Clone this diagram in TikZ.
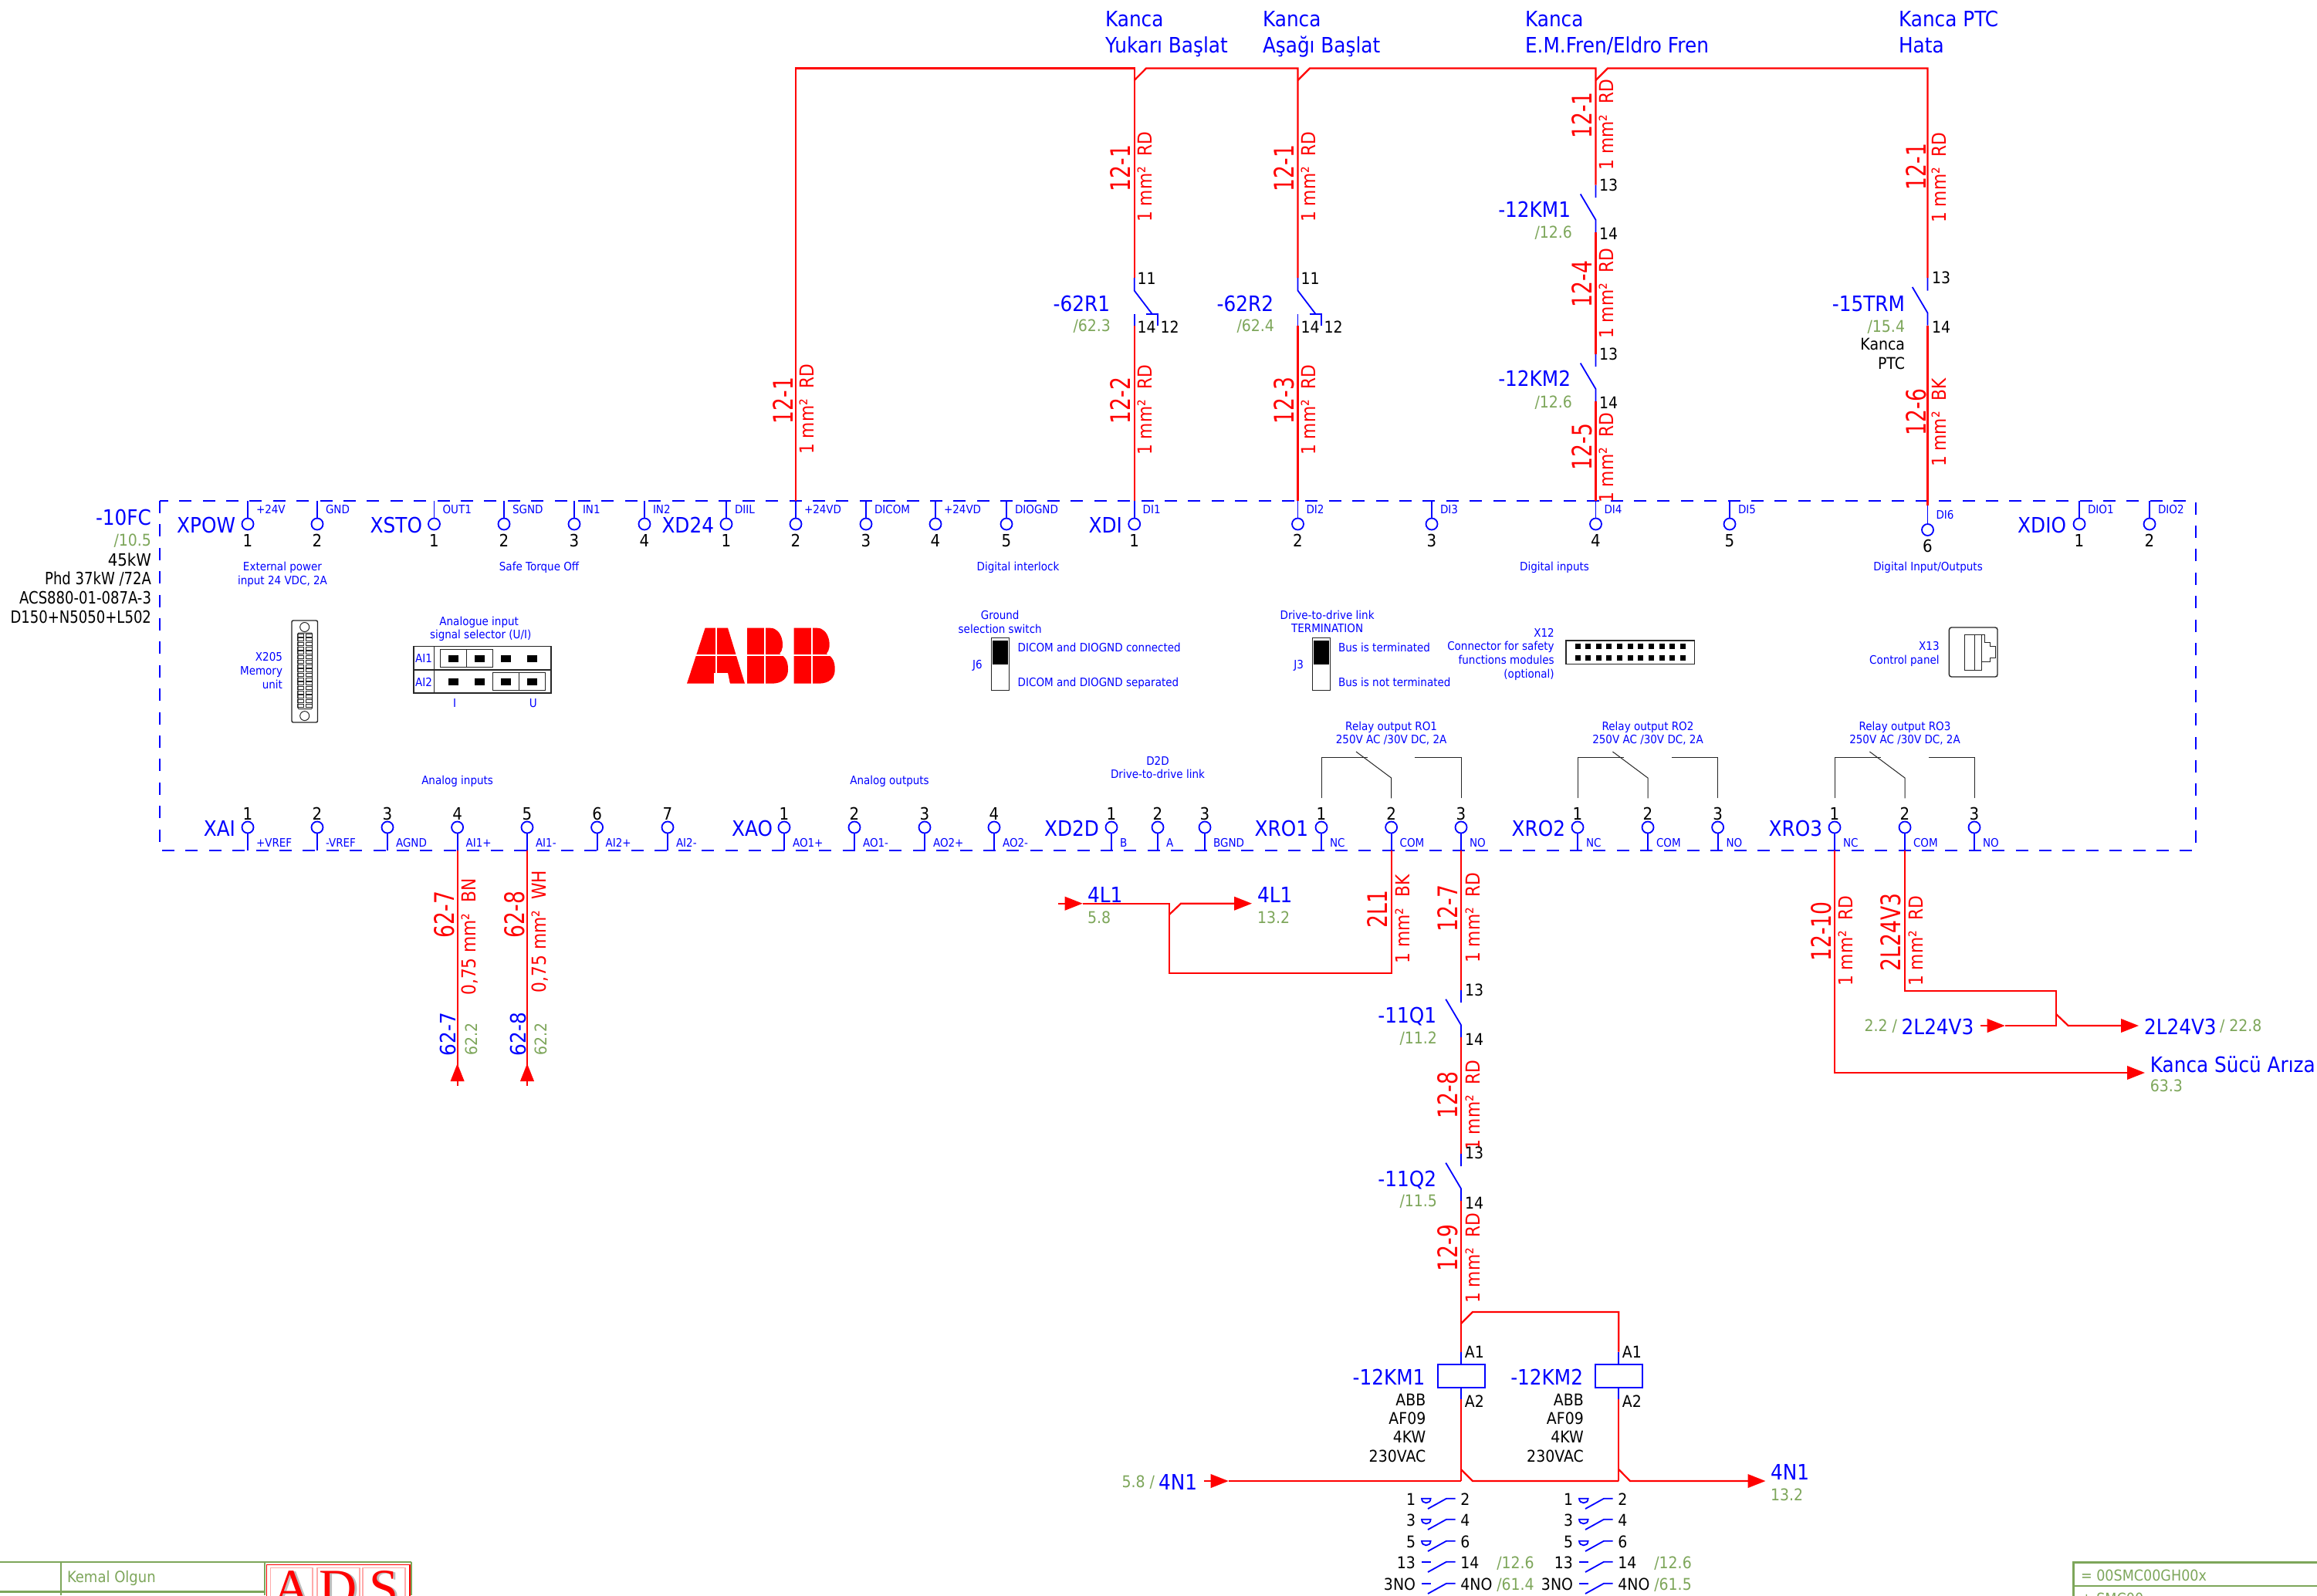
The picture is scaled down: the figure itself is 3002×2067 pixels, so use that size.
\documentclass[tikz,border=0pt]{standalone}
\usepackage{fontspec}
\setmainfont{DejaVu Sans}
\newfontfamily\fTa[FakeStretch=0.9]{DejaVu Sans}
\newfontfamily\fTb[FakeStretch=0.82]{DejaVu Sans}
\newfontfamily\fWa[FakeStretch=0.76]{DejaVu Sans}
\newfontfamily\fWb[FakeStretch=0.87]{DejaVu Sans}
\newfontfamily\fSer{Liberation Serif}
\usetikzlibrary{arrows.meta}
\definecolor{grn}{RGB}{125,166,90}
\definecolor{pnk}{RGB}{255,170,170}
\definecolor{shd}{RGB}{190,190,190}
\newcounter{txtn}
\newcommand\Tx[4]{\stepcounter{txtn}\node[#1] (txt\arabic{txtn}) at (#2,#3) {#4};}
\tikzset{
  x=1pt,y=-1pt,
  sz/.style={font=\fTa\fontsize{#1}{#1}\selectfont,text height={#1*0.73pt},text depth=0pt,inner sep=0pt,outer sep=0pt},
  ae/.style={anchor=east}, aw/.style={anchor=west},
  bl/.style={sz=27.5,text=blue},
  capt/.style={sz=15,text=blue},
  stemt/.style={sz=15,text=blue,anchor=west},
  gr/.style={sz=21,text=grn},
  blk/.style={sz=22,text=black},
  blkn/.style={sz=22,font=\fTb\fontsize{22}{22}\selectfont,text=black,anchor=east},
  pinl/.style={sz=21,text=black,anchor=west},
  wnm/.style={font=\fWa\fontsize{35}{35}\selectfont,text height={25.5pt},text depth=0pt,inner sep=0pt,outer sep=0pt,text=red,rotate=90},
  wsc/.style={font=\fWb\fontsize{25}{25}\selectfont,text height={18.2pt},text depth=0pt,inner sep=0pt,outer sep=0pt,text=red,rotate=90},
  termc/.style={circle,draw=blue,line width=1.8pt,minimum size=15pt,inner sep=0pt,fill=white},
  bline/.style={draw=blue,line width=1.8pt},
  wire/.style={draw=red,line width=2.2pt,line join=miter},
  arr/.style={wire,-{Triangle[length=23pt,width=17.5pt]},shorten >=0pt},
  symb/.style={draw=black!85,line width=1pt},
  gline/.style={draw=grn,line width=2.6pt},
  coilb/.style={rectangle,draw=blue,line width=2pt,minimum width=61pt,minimum height=30.6pt,inner sep=0pt},
}
% top terminal: name, x, number, label, optional dy
\newcommand\topT[5][0]{%
  \node[termc] (#2) at (#3,{679+#1}) {};
  \draw[bline] (#2) -- (#2 |- boxNW);
  \Tx{blk}{#3}{{700+#1}}{#4}
  \Tx{stemt}{{#3+11}}{{660+#1}}{#5}
}
\newcommand\botT[4]{%
  \node[termc] (#1) at (#2,1072) {};
  \draw[bline] (#1) -- (#1 |- boxSE);
  \Tx{blk}{#2}{1054}{#3}
  \Tx{stemt}{{#2+11}}{1092.5}{#4}
}
% normally-open contact: name, x, y of top end
\newcommand\noc[3]{%
  \coordinate (#1i) at (#2,#3);
  \coordinate (#1a) at (#2,{#3+16.5});
  \coordinate (#1b) at ({#2-19.8},{#3+12});
  \coordinate (#1c) at (#2,{#3+45.5});
  \coordinate (#1o) at (#2,{#3+61.5});
  \draw[bline] (#1i) -- (#1a) (#1b) -- (#1c) -- (#1o);
}
% relay block above terminals: x of COM, caption
\newcommand\relay[2]{%
  \Tx{capt}{#1}{940.7}{Relay output #2}
  \Tx{capt}{#1}{957.6}{250V AC /30V DC, 2A}
  \draw[symb] ({#1-90.6},1034.4) -- ({#1-90.6},981.4) -- ({#1-30.6},981.4);
  \draw[symb] (#1,1034.4) -- (#1,1008) -- ({#1-45.6},974);
  \draw[symb] ({#1+90.6},1034.4) -- ({#1+90.6},981.4) -- ({#1+30.6},981.4);
}
% aux contact row: xoff, y, kind, left, right, ref
\newcommand\crow[6]{%
  \ifnum#3=1
    \draw[bline] ({1842+#1},#2) -- ({1853.6+#1},#2) .. controls ({1853.6+#1},{#2+7.5}) and ({1842+#1},{#2+7.5}) .. cycle;
  \else
    \draw[bline] ({1842+#1},#2) -- ({1853.6+#1},#2);
  \fi
  \draw[bline] ({1850+#1},{#2+13.3}) -- ({1874+#1},#2) -- ({1885.7+#1},#2);
  \Tx{sz=21,ae}{{1834+#1}}{{#2+1}}{#4}
  \Tx{pinl}{{1892.4+#1}}{{#2+1}}{#5}
  \Tx{gr,aw}{{1939.3+#1}}{{#2+1}}{#6}
}
% ABB letter B
\newcommand\abbB[1]{%
  \fill[red] (#1,813.7) -- ({#1+30},813.7) .. controls ({#1+46},813.7) and ({#1+50},840) .. ({#1+42},847) .. controls ({#1+52},852) and ({#1+53},860) .. ({#1+53},868) .. controls ({#1+53},878) and ({#1+46},885.7) .. ({#1+32},885.7) -- (#1,885.7) -- cycle;
  \draw[white,line width=2pt] ({#1+23},813) -- ({#1+23},886.5);
}
\begin{document}
\begin{tikzpicture}
\useasboundingbox (0,0) rectangle (3002,2067);
\clip (0,0) rectangle (3002,2067);
\fill[white] (0,0) rectangle (3002,2067);

% device outline
\coordinate (boxNW) at (207,649);
\coordinate (boxSE) at (2845,1102);
\draw[blue,line width=2pt,dash pattern=on 16pt off 14.4pt] (boxNW) rectangle (boxSE);
\coordinate (topbus) at (0,88.5);

% top terminals
\topT{p1}{321}{1}{+24V}
\topT{p2}{411}{2}{GND}
\topT{s1}{562.5}{1}{OUT1}
\topT{s2}{653}{2}{SGND}
\topT{s3}{744}{3}{IN1}
\topT{s4}{835}{4}{IN2}
\topT{d1}{941}{1}{DIIL}
\topT{d2}{1031}{2}{+24VD}
\topT{d3}{1122}{3}{DICOM}
\topT{d4}{1212}{4}{+24VD}
\topT{d5}{1304}{5}{DIOGND}
\topT{i1}{1469.7}{1}{DI1}
\topT{i2}{1681.5}{2}{DI2}
\topT{i3}{1855}{3}{DI3}
\topT{i4}{2067.5}{4}{DI4}
\topT{i5}{2241}{5}{DI5}
\topT[7.5]{i6}{2497.5}{6}{DI6}
\topT{o1}{2694}{1}{DIO1}
\topT{o2}{2785}{2}{DIO2}

% bottom terminals
\botT{a1}{321}{1}{+VREF}
\botT{a2}{411}{2}{-VREF}
\botT{a3}{502}{3}{AGND}
\botT{a4}{592.6}{4}{AI1+}
\botT{a5}{683}{5}{AI1-}
\botT{a6}{773.6}{6}{AI2+}
\botT{a7}{865}{7}{AI2-}
\botT{b1}{1016}{1}{AO1+}
\botT{b2}{1107}{2}{AO1-}
\botT{b3}{1198}{3}{AO2+}
\botT{b4}{1288}{4}{AO2-}
\botT{c1}{1440}{1}{B}
\botT{c2}{1500}{2}{A}
\botT{c3}{1561}{3}{BGND}
\botT{r1}{1712}{1}{NC}
\botT{r2}{1802.6}{2}{COM}
\botT{r3}{1893}{3}{NO}
\botT{q1}{2044}{1}{NC}
\botT{q2}{2135}{2}{COM}
\botT{q3}{2225.6}{3}{NO}
\botT{u1}{2377}{1}{NC}
\botT{u2}{2468}{2}{COM}
\botT{u3}{2558}{3}{NO}

% connector group names
\Tx{bl,ae}{305}{680}{XPOW}
\Tx{bl,ae}{547}{680}{XSTO}
\Tx{bl,ae}{925}{680}{XD24}
\Tx{bl,ae}{1454}{680}{XDI}
\Tx{bl,ae}{2677}{680}{XDIO}
\Tx{bl,ae}{305}{1073.5}{XAI}
\Tx{bl,ae}{1001}{1073.5}{XAO}
\Tx{bl,ae}{1424}{1073.5}{XD2D}
\Tx{bl,ae}{1695}{1073.5}{XRO1}
\Tx{bl,ae}{2028}{1073.5}{XRO2}
\Tx{bl,ae}{2361}{1073.5}{XRO3}

% device designation
\Tx{bl,ae}{196}{670}{-10FC}
\Tx{gr,ae}{196}{700}{/10.5}
\Tx{blk,ae}{196}{725}{45kW}
\Tx{blkn}{196}{749}{Phd 37kW /72A}
\Tx{blkn}{196}{774}{ACS880-01-087A-3}
\Tx{blkn}{196}{799}{D150+N5050+L502}

% captions
\Tx{capt}{366}{734}{External power}
\Tx{capt}{366}{752}{input 24 VDC, 2A}
\Tx{capt}{698.6}{734}{Safe Torque Off}
\Tx{capt}{1319}{734}{Digital interlock}
\Tx{capt}{2014}{734}{Digital inputs}
\Tx{capt}{2498}{734}{Digital Input/Outputs}
\Tx{capt}{592.6}{1010.6}{Analog inputs}
\Tx{capt}{1152.5}{1010.6}{Analog outputs}
\Tx{capt}{1500}{985.7}{D2D}
\Tx{capt}{1500}{1003.5}{Drive-to-drive link}

% X205
\Tx{capt,ae}{366}{851}{X205}
\Tx{capt,ae}{366}{869}{Memory}
\Tx{capt,ae}{366}{887}{unit}
\draw[symb,rounded corners=2pt,line width=1.4pt] (378,804) rectangle (411.5,936);
\draw[symb] (394.7,812.5) circle (6pt) (394.7,927.6) circle (6pt);
\draw[symb,rounded corners=1pt] (386,820) rectangle (404.5,918.5);
\foreach \r in {0,...,16}{
  \draw[symb,line width=.8pt] (385,{821+\r*5.7}) rectangle (393.3,{825+\r*5.7});
  \draw[symb,line width=.8pt] (396.3,{821+\r*5.7}) rectangle (404.5,{825+\r*5.7});
}

% analogue selector
\Tx{capt}{620.7}{805}{Analogue input}
\Tx{capt}{622.7}{822}{signal selector (U/I)}
\draw[symb,line width=1.4pt] (536,837.3) rectangle (714,898);
\draw[symb,line width=1.4pt] (536,868) -- (714,868) (562.7,837.3) -- (562.7,898);
\Tx{capt}{549}{853}{AI1}
\Tx{capt}{549}{884}{AI2}
\foreach \px in {587.3,621.3,655.3,689.3}{
  \fill[black] ({\px-6.3},848.5) rectangle ({\px+6.3},857.5);
  \fill[black] ({\px-6.3},878.5) rectangle ({\px+6.3},887.5);
}
\draw[symb] (570,841.3) rectangle (638.7,864.3) (604.3,841.3) -- (604.3,864.3);
\draw[symb] (638.3,871.7) rectangle (706.7,894.3) (672.3,871.7) -- (672.3,894.3);
\Tx{capt}{589}{911}{I}
\Tx{capt}{690.7}{911}{U}

% ABB logo
\fill[red] (890,885.7) -- (913.6,813.7) -- (943,813.7) -- (965,885.7) -- cycle;
\fill[white] (925,886.5) -- (925,872) -- (943,872) -- (946,886.5) -- cycle;
\draw[white,line width=2pt] (928,813) -- (928,872);
\abbB{968}
\abbB{1028.7}
\draw[white,line width=2pt] (885,848.5) -- (1085,848.5);

% J6
\Tx{capt}{1295.7}{796.7}{Ground}
\Tx{capt}{1295.7}{815}{selection switch}
\draw[symb,line width=1.4pt] (1284.7,826.7) rectangle (1307.3,894.3);
\fill[black] (1286,830) rectangle (1306.3,861);
\Tx{capt,ae}{1272.7}{861}{J6}
\Tx{capt,aw}{1318.7}{839}{DICOM and DIOGND connected}
\Tx{capt,aw}{1318.7}{884}{DICOM and DIOGND separated}
% J3
\Tx{capt}{1719.6}{796.7}{Drive-to-drive link}
\Tx{capt}{1719.6}{814.5}{TERMINATION}
\draw[symb,line width=1.4pt] (1700.5,826.7) rectangle (1723.5,894.3);
\fill[black] (1702,830) rectangle (1722,861);
\Tx{capt,ae}{1689}{861}{J3}
\Tx{capt,aw}{1734}{838.7}{Bus is terminated}
\Tx{capt,aw}{1734}{884}{Bus is not terminated}
% X12
\Tx{capt,ae}{2013.7}{820}{X12}
\Tx{capt,ae}{2013.7}{837}{Connector for safety}
\Tx{capt,ae}{2013.7}{855}{functions modules}
\Tx{capt,ae}{2013.7}{873}{(optional)}
\draw[symb,line width=1.4pt] (2029,830) rectangle (2195.3,860.7);
\foreach \n in {0,...,10}{
  \fill[black] ({2040.5+\n*13.65},833.7) rectangle ({2047.5+\n*13.65},841);
  \fill[black] ({2040.5+\n*13.65},849) rectangle ({2047.5+\n*13.65},856.4);
}
% X13
\Tx{capt,ae}{2512.6}{837}{X13}
\Tx{capt,ae}{2512.6}{855}{Control panel}
\draw[symb,rounded corners=3pt,line width=1.4pt] (2525.4,813) rectangle (2588,877);
\draw[symb] (2545,822.7) -- (2571.3,822.7) -- (2571.3,832.7) -- (2578,832.7) -- (2578,837.3) -- (2585.6,837.3) -- (2585.6,852.7) -- (2578,852.7) -- (2578,857.3) -- (2567.2,857.3) -- (2567.2,868.3) -- (2545,868.3) -- cycle;
\draw[symb] (2558.6,822.7) -- (2558.6,868.3) (2567.2,822.7) -- (2567.2,857.3);

% relay outputs
\relay{1802.6}{RO1}
\relay{2135}{RO2}
\relay{2468}{RO3}

% top wiring
\coordinate (j1) at (1469.7,104);
\coordinate (j2) at (1681.5,104);
\coordinate (j3) at (2067.5,104);
\coordinate (k62ai) at (1469.7,360);
\coordinate (k62bi) at (1681.5,360);
\noc{km1t}{2067.5}{239.5}
\noc{km2t}{2067.5}{458.6}
\noc{trm}{2497.5}{360}
\draw[wire] (d2 |- boxNW) -- (d2 |- topbus) -- (i1 |- topbus) -- (k62ai);
\draw[wire] (j1) -- (1485,88.5) -- (i2 |- topbus) -- (k62bi);
\draw[wire] (j2) -- (1697,88.5) -- (i4 |- topbus) -- (km1ti);
\draw[wire] (j3) -- (2083,88.5) -- (trmi |- topbus) -- (trmi);
\draw[wire] (km1to) -- (km2ti);
\draw[wire] (km2to) -- (i4 |- boxNW);
\draw[wire] (trmo) -- (2497.5,655);
\foreach \cx in {1469.7,1681.5}{
  \draw[bline] (\cx,406.8) -- (\cx,422);
  \draw[wire] (\cx,422) -- (\cx,649);
  \draw[bline] (\cx,360) -- (\cx,376.6) -- ({\cx+23},406.8);
  \draw[bline] ({\cx+15.3},406.8) -- ({\cx+30.6},406.8) -- ({\cx+30.6},422);
  \Tx{pinl}{{\cx+4}}{360.7}{11}
  \Tx{pinl}{{\cx+4}}{424}{14}
  \Tx{pinl}{{\cx+34}}{424}{12}
}

% top labels
\Tx{bl,aw}{1432}{24.5}{Kanca}
\Tx{bl,aw}{1432}{58}{Yukarı Başlat}
\Tx{bl,aw}{1636}{24.5}{Kanca}
\Tx{bl,aw}{1636}{58}{Aşağı Başlat}
\Tx{bl,aw}{1976}{24.5}{Kanca}
\Tx{bl,aw}{1976}{58}{E.M.Fren/Eldro Fren}
\Tx{bl,aw}{2460}{24.5}{Kanca PTC}
\Tx{bl,aw}{2460}{58}{Hata}

% wire designations top
\Tx{wnm}{1014.7}{519}{12-1}
\Tx{wsc}{1045}{530}{1 mm²\ \ RD}
\Tx{wnm}{1452}{218}{12-1}
\Tx{wsc}{1483.7}{229}{1 mm²\ \ RD}
\Tx{wnm}{1452}{519}{12-2}
\Tx{wsc}{1483.7}{531}{1 mm²\ \ RD}
\Tx{wnm}{1664}{218}{12-1}
\Tx{wsc}{1695.5}{229}{1 mm²\ \ RD}
\Tx{wnm}{1664}{519}{12-3}
\Tx{wsc}{1695.5}{531}{1 mm²\ \ RD}
\Tx{wnm}{2049.7}{149.5}{12-1}
\Tx{wsc}{2081.5}{161.6}{1 mm²\ \ RD}
\Tx{wnm}{2049.7}{368}{12-4}
\Tx{wsc}{2081.5}{380}{1 mm²\ \ RD}
\Tx{wnm}{2049.7}{579}{12-5}
\Tx{wsc}{2081.5}{593}{1 mm²\ \ RD}
\Tx{wnm}{2483}{216}{12-1}
\Tx{wsc}{2512}{230}{1 mm²\ \ RD}
\Tx{wnm}{2483}{534}{12-6}
\Tx{wsc}{2512}{547.5}{1 mm²\ \ BK}

% contact labels top
\Tx{bl,ae}{1438}{393}{-62R1}
\Tx{gr,ae}{1439}{421.5}{/62.3}
\Tx{bl,ae}{1650}{393}{-62R2}
\Tx{gr,ae}{1651}{421.5}{/62.4}
\Tx{bl,ae}{2035}{271.7}{-12KM1}
\Tx{gr,ae}{2037}{301}{/12.6}
\Tx{pinl}{2072}{239.5}{13}
\Tx{pinl}{2072}{303}{14}
\Tx{bl,ae}{2035}{490}{-12KM2}
\Tx{gr,ae}{2037}{521}{/12.6}
\Tx{pinl}{2072}{458.6}{13}
\Tx{pinl}{2072}{522}{14}
\Tx{bl,ae}{2468}{393}{-15TRM}
\Tx{gr,ae}{2468}{423}{/15.4}
\Tx{sz=21,ae}{2468}{446}{Kanca}
\Tx{sz=21,ae}{2468}{471}{PTC}
\Tx{pinl}{2503}{360}{13}
\Tx{pinl}{2503}{424}{14}

% analog wiring
\coordinate (w7e) at (592.6,1407);
\coordinate (w7t) at (592.6,1378);
\coordinate (w8e) at (683,1407);
\coordinate (w8t) at (683,1378);
\draw[wire] (a4 |- boxSE) -- (w7e);
\draw[wire] (a5 |- boxSE) -- (w8e);
\draw[arr] (w7e) -- (w7t);
\draw[arr] (w8e) -- (w8t);
\Tx{wnm}{575.5}{1185}{62-7}
\Tx{wsc}{607}{1214}{0,75 mm²\ \ BN}
\Tx{wnm}{666.7}{1185}{62-8}
\Tx{wsc}{698.6}{1207}{0,75 mm²\ \ WH}
\Tx{bl,rotate=90}{580}{1340}{62-7}
\Tx{gr,rotate=90}{611}{1346}{62.2}
\Tx{bl,rotate=90}{671}{1340}{62-8}
\Tx{gr,rotate=90}{701}{1346}{62.2}

% 4L1
\coordinate (l1a) at (1371,1170.7);
\coordinate (l1t) at (1402.7,1170.7);
\coordinate (l1j) at (1515,1170.7);
\coordinate (l1b) at (1515,1185);
\coordinate (l1c) at (1530,1170.7);
\coordinate (l1r) at (1622,1170.7);
\coordinate (l1d) at (1515,1261);
\draw[arr] (l1a) -- (l1t);
\draw[wire] (l1t) -- (l1j) -- (l1d) -- (r2 |- l1d) -- (r2 |- boxSE);
\draw[arr] (l1b) -- (l1c) -- (l1r);
\Tx{bl,aw}{1409}{1159}{4L1}
\Tx{gr,aw}{1409}{1189}{5.8}
\Tx{bl,aw}{1629}{1159}{4L1}
\Tx{gr,aw}{1629}{1189}{13.2}
\Tx{wnm}{1785}{1178}{2L1}
\Tx{wsc}{1817.4}{1191}{1 mm²\ \ BK}

% coil feed
\noc{q1c}{1893}{1282.7}
\noc{q2c}{1893}{1494.7}
\draw[wire] (r3 |- boxSE) -- (q1ci);
\draw[wire] (q1co) -- (q2ci);
\coordinate (a1a) at (1893,1751.7);
\coordinate (a1b) at (2097.3,1751.7);
\coordinate (a2a) at (1893,1813);
\coordinate (a2b) at (2097.3,1813);
\coordinate (bus) at (1893,1919);
\node[coilb] (km1) at (1893,1783) {};
\node[coilb] (km2) at (2097.3,1783) {};
\draw[wire] (q2co) -- (a1a);
\draw[wire] (1893,1715) -- (1908,1700) -- (2097.3,1700) -- (a1b);
\draw[bline] (a1a) -- (km1) (km1) -- (a2a) (a1b) -- (km2) (km2) -- (a2b);
\draw[wire] (a2a) -- (bus);
\draw[wire] (a2b) -- (2097.3,1919);
\draw[wire] (1893,1904) -- (1908,1919) -- (2097.3,1919);
\coordinate (n1a) at (1560,1919);
\coordinate (n1t) at (1591.7,1919);
\draw[arr] (n1a) -- (n1t);
\draw[wire] (n1t) -- (bus);
\coordinate (n1r) at (2287.5,1919);
\draw[arr] (2097.3,1904) -- (2112,1919) -- (n1r);
\Tx{wnm}{1876}{1177}{12-7}
\Tx{wsc}{1908}{1189}{1 mm²\ \ RD}
\Tx{wnm}{1876}{1419}{12-8}
\Tx{wsc}{1908}{1432}{1 mm²\ \ RD}
\Tx{wnm}{1876}{1617}{12-9}
\Tx{wsc}{1908}{1630}{1 mm²\ \ RD}
\Tx{pinl}{1898}{1282.7}{13}
\Tx{pinl}{1898}{1346.7}{14}
\Tx{pinl}{1898}{1494}{13}
\Tx{pinl}{1898}{1559}{14}
\Tx{bl,ae}{1861}{1315}{-11Q1}
\Tx{gr,ae}{1862}{1345}{/11.2}
\Tx{bl,ae}{1861}{1527}{-11Q2}
\Tx{gr,ae}{1862}{1556}{/11.5}
\Tx{bl,aw}{2294}{1907.7}{4N1}
\Tx{gr,aw}{2294}{1936.7}{13.2}
\Tx{bl,ae}{1551}{1920}{4N1}
\Tx{gr,ae}{1496}{1920}{5.8 /}

% contactor labels
\Tx{bl,ae}{1846.4}{1784}{-12KM1}
\Tx{bl,ae}{2051}{1784}{-12KM2}
\Tx{pinl}{1897.8}{1751.7}{A1}
\Tx{pinl}{1897.8}{1815.7}{A2}
\Tx{pinl}{2101.8}{1751.7}{A1}
\Tx{pinl}{2101.8}{1815.7}{A2}
\foreach \xx in {1847.3,2051.8}{
  \Tx{sz=21,ae}{\xx}{1814}{ABB}
  \Tx{sz=21,ae}{\xx}{1837.7}{AF09}
  \Tx{sz=21,ae}{\xx}{1862}{4KW}
  \Tx{sz=21,ae}{\xx}{1886.7}{230VAC}
}
% auxiliary contacts
\crow{0}{1941.7}{1}{1}{2}{}
\crow{0}{1968.7}{1}{3}{4}{}
\crow{0}{1996.7}{1}{5}{6}{}
\crow{0}{2023.7}{0}{13}{14}{/12.6}
\crow{0}{2051.7}{0}{3NO}{4NO}{/61.4}
\crow{204}{1941.7}{1}{1}{2}{}
\crow{204}{1968.7}{1}{3}{4}{}
\crow{204}{1996.7}{1}{5}{6}{}
\crow{204}{2023.7}{0}{13}{14}{/12.6}
\crow{204}{2051.7}{0}{3NO}{4NO}{/61.5}

% XRO3 outputs
\coordinate (e1) at (2377,1390);
\coordinate (e1t) at (2779,1390);
\draw[arr] (u1 |- boxSE) -- (e1) -- (e1t);
\coordinate (e2) at (2468,1284);
\coordinate (e3) at (2664,1284);
\coordinate (e4) at (2664,1329);
\coordinate (e5) at (2565.5,1329);
\coordinate (e5t) at (2597.7,1329);
\draw[wire] (u2 |- boxSE) -- (e2) -- (e3) -- (e4) -- (e5t);
\draw[arr] (e5) -- (e5t);
\draw[arr] (2664,1314) -- (2679.7,1329) -- (2771,1329);
\Tx{wnm}{2359.5}{1207}{12-10}
\Tx{wsc}{2391.8}{1219}{1 mm²\ \ RD}
\Tx{wnm}{2450}{1208}{2L24V3}
\Tx{wsc}{2482}{1219}{1 mm²\ \ RD}
\Tx{bl,ae}{2557.4}{1330.7}{2L24V3}
\Tx{gr,ae}{2458}{1329}{2.2 /}
\Tx{bl,aw}{2778}{1330.7}{2L24V3}
\Tx{gr,aw}{2876}{1329}{/ 22.8}
\Tx{bl,aw}{2785.8}{1379}{Kanca Sücü Arıza}
\Tx{gr,aw}{2785.8}{1407}{63.3}

% title block left
\draw[gline] (0,2024) -- (533,2024);
\draw[gline] (0,2062.7) -- (343,2062.7);
\draw[gline] (79,2024) -- (79,2067);
\draw[gline] (343,2024) -- (343,2067);
\draw[gline] (533,2024) -- (533,2067);
\Tx{gr,sz=20,aw}{87}{2043}{Kemal Olgun}
\draw[red,line width=1.2pt] (345.5,2027.7) rectangle (531,2075);
\draw[pnk,line width=1.2pt] (350.5,2031.7) rectangle (405,2075);
\draw[pnk,line width=1.2pt] (411,2031.7) rectangle (466,2075);
\draw[pnk,line width=1.2pt] (470,2031.7) rectangle (525,2075);
\foreach \lx/\lt in {377.7/A,438.5/D,497.5/S}{
  \node[font=\fSer\fontsize{68}{68}\selectfont,text=shd,anchor=base,inner sep=0pt] (s\lt) at ({\lx+3},2081) {\lt};
  \node[font=\fSer\fontsize{68}{68}\selectfont,text=red,anchor=base,inner sep=0pt] (l\lt) at (\lx,2080) {\lt};
}
% title block right
\draw[gline] (3010,2024.3) -- (2686.7,2024.3) -- (2686.7,2075);
\draw[gline,line width=2pt] (2686.7,2055) -- (3010,2055);
\Tx{gr,sz=19.5,aw}{2696}{2041.7}{= 00SMC00GH00x}
\Tx{gr,sz=19.5,aw}{2696}{2071}{+ SMC00}
\end{tikzpicture}
\end{document}
